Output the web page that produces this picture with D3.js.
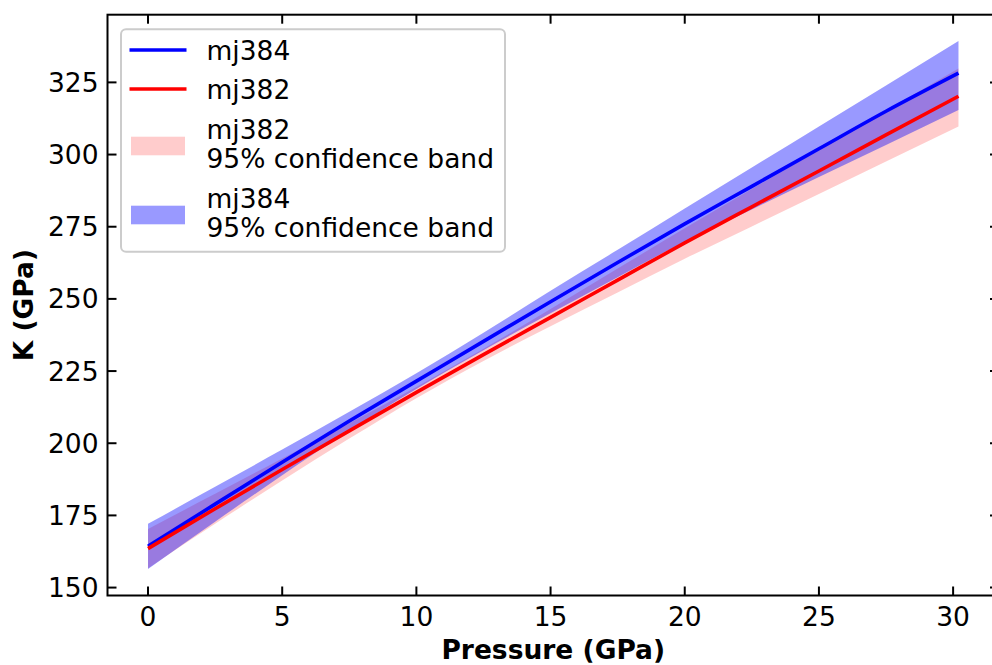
<!DOCTYPE html>
<html>
<head>
<meta charset="utf-8">
<script src="https://cdn.jsdelivr.net/npm/d3@7"></script>
<style>
  body { margin: 0; background: #fff; }
  text { font-family: "DejaVu Sans", sans-serif; fill: #000; }
</style>
</head>
<body>
<div id="chart"></div>
<script>
// values
const pressure = [0, 2.5, 5, 7.5, 10, 12.5, 15, 17.5, 20, 22.5, 25, 27.5, 30.2];

const mj384 = [164.3, 178.9, 193.4, 207.7, 221.5, 235.3, 249.0, 262.6, 276.0, 289.0, 302.0, 315.0, 328.2];
const mj384Upper = [172.1, 184.9, 197.8, 210.9, 224.2, 238.3, 252.8, 267.0, 281.3, 295.5, 309.7, 323.9, 339.3];
const mj384Lower = [156.4, 172.8, 188.9, 204.4, 218.8, 232.2, 245.0, 257.5, 269.8, 281.0, 292.2, 303.3, 315.4];

const mj382 = [163.5, 177.3, 190.9, 204.3, 217.6, 230.7, 243.6, 256.5, 269.4, 281.9, 294.3, 306.8, 320.2];
const mj382Upper = [170.3, 182.5, 194.7, 206.9, 219.5, 232.7, 246.5, 260.5, 274.5, 288.1, 301.6, 315.2, 329.8];
const mj382Lower = [156.7, 172.1, 187.1, 201.6, 215.6, 228.5, 240.5, 252.2, 263.9, 275.1, 286.3, 297.6, 309.7];

const xTicks = [0, 5, 10, 15, 20, 25, 30];
const yTicks = [150, 175, 200, 225, 250, 275, 300, 325];

const width = 992,
  height = 665;
const margin = { top: 14.7, right: -7, bottom: 69.5, left: 107.5 };
const fontSize = "26.5px";

const svg = d3
  .select("#chart")
  .append("svg")
  .attr("width", width)
  .attr("height", height);

// matplotlib-like 5% margins
const xExt = d3.extent(pressure);
const xPad = (xExt[1] - xExt[0]) * 0.05;
const yExt = [d3.min(mj384Lower.concat(mj382Lower)), d3.max(mj384Upper.concat(mj382Upper))];
const yPad = (yExt[1] - yExt[0]) * 0.05;

const x = d3
  .scaleLinear()
  .domain([xExt[0] - xPad, xExt[1] + xPad])
  .range([margin.left, width - margin.right]);
const y = d3
  .scaleLinear()
  .domain([yExt[0] - yPad, yExt[1] + yPad])
  .range([height - margin.bottom, margin.top]);

const rows = (mid, lo, hi) =>
  pressure.map((p, i) => ({ p, k: mid[i], lo: lo[i], hi: hi[i] }));
const blue = rows(mj384, mj384Lower, mj384Upper);
const red = rows(mj382, mj382Lower, mj382Upper);

const area = d3
  .area()
  .curve(d3.curveMonotoneX)
  .x((d) => x(d.p))
  .y0((d) => y(d.lo))
  .y1((d) => y(d.hi));
const line = d3
  .line()
  .curve(d3.curveMonotoneX)
  .x((d) => x(d.p))
  .y((d) => y(d.k));

const plot = svg.append("g");

plot.append("path").datum(red).attr("d", area).style("fill", "red").style("fill-opacity", 0.2);
plot.append("path").datum(blue).attr("d", area).style("fill", "blue").style("fill-opacity", 0.4);

plot
  .append("path")
  .datum(blue)
  .attr("d", line)
  .style("fill", "none")
  .style("stroke", "blue")
  .style("stroke-width", 3.6);
plot
  .append("path")
  .datum(red)
  .attr("d", line)
  .style("fill", "none")
  .style("stroke", "red")
  .style("stroke-width", 3.6);

// axes, ticks pointing inward on all sides
const tickLen = 9;
const plotBottom = height - margin.bottom;
const plotTop = margin.top;
const plotLeft = margin.left;
const plotRight = width - margin.right;

const axisG = svg.append("g").style("stroke", "#000").style("stroke-width", 2);

axisG
  .append("rect")
  .attr("x", plotLeft)
  .attr("y", plotTop)
  .attr("width", plotRight - plotLeft)
  .attr("height", plotBottom - plotTop)
  .style("fill", "none");

xTicks.forEach((t) => {
  axisG.append("line").attr("x1", x(t)).attr("x2", x(t)).attr("y1", plotBottom).attr("y2", plotBottom - tickLen);
  axisG.append("line").attr("x1", x(t)).attr("x2", x(t)).attr("y1", plotTop).attr("y2", plotTop + tickLen);
});
yTicks.forEach((t) => {
  axisG.append("line").attr("y1", y(t)).attr("y2", y(t)).attr("x1", plotLeft).attr("x2", plotLeft + tickLen);
  axisG.append("line").attr("y1", y(t)).attr("y2", y(t)).attr("x1", plotRight).attr("x2", plotRight - tickLen);
});

svg
  .selectAll("text.xtick")
  .data(xTicks)
  .join("text")
  .attr("class", "xtick")
  .attr("x", (d) => x(d))
  .attr("y", plotBottom + 30)
  .attr("text-anchor", "middle")
  .style("font-size", fontSize)
  .text((d) => d);

svg
  .selectAll("text.ytick")
  .data(yTicks)
  .join("text")
  .attr("class", "ytick")
  .attr("x", plotLeft - 9)
  .attr("y", (d) => y(d) + 9.6)
  .attr("text-anchor", "end")
  .style("font-size", fontSize)
  .text((d) => d);

svg
  .append("text")
  .attr("x", (plotLeft + plotRight) / 2)
  .attr("y", 659)
  .attr("text-anchor", "middle")
  .style("font-size", fontSize)
  .style("font-weight", "bold")
  .text("Pressure (GPa)");

svg
  .append("text")
  .attr("transform", `translate(33,${(plotTop + plotBottom) / 2}) rotate(-90)`)
  .attr("text-anchor", "middle")
  .style("font-size", fontSize)
  .style("font-weight", "bold")
  .text("K (GPa)");

// legend
const legend = svg.append("g");
legend
  .append("rect")
  .attr("x", 121)
  .attr("y", 29.3)
  .attr("width", 384)
  .attr("height", 222.4)
  .attr("rx", 5)
  .style("fill", "white")
  .style("fill-opacity", 0.8)
  .style("stroke", "#cccccc")
  .style("stroke-width", 2);

const legendItems = [
  { type: "line", color: "blue", labels: ["mj384"], y: 50 },
  { type: "line", color: "red", labels: ["mj382"], y: 89 },
  { type: "patch", color: "red", opacity: 0.2, labels: ["mj382", "95% confidence band"], y: 146 },
  { type: "patch", color: "blue", opacity: 0.4, labels: ["mj384", "95% confidence band"], y: 215 },
];

legendItems.forEach((item) => {
  if (item.type === "line") {
    legend
      .append("line")
      .attr("x1", 129.5)
      .attr("x2", 186.5)
      .attr("y1", item.y)
      .attr("y2", item.y)
      .style("stroke", item.color)
      .style("stroke-width", 3.6);
  } else {
    legend
      .append("rect")
      .attr("x", 131)
      .attr("y", item.y - 9.3)
      .attr("width", 54)
      .attr("height", 18.6)
      .style("fill", item.color)
      .style("fill-opacity", item.opacity);
  }
  const n = item.labels.length;
  item.labels.forEach((l, i) => {
    const base = n === 1 ? item.y + 10 : item.y - 7.5 + i * 29.5;
    legend
      .append("text")
      .attr("x", 206.5)
      .attr("y", base)
      .style("font-size", fontSize)
      .text(l);
  });
});
</script>
</body>
</html>
